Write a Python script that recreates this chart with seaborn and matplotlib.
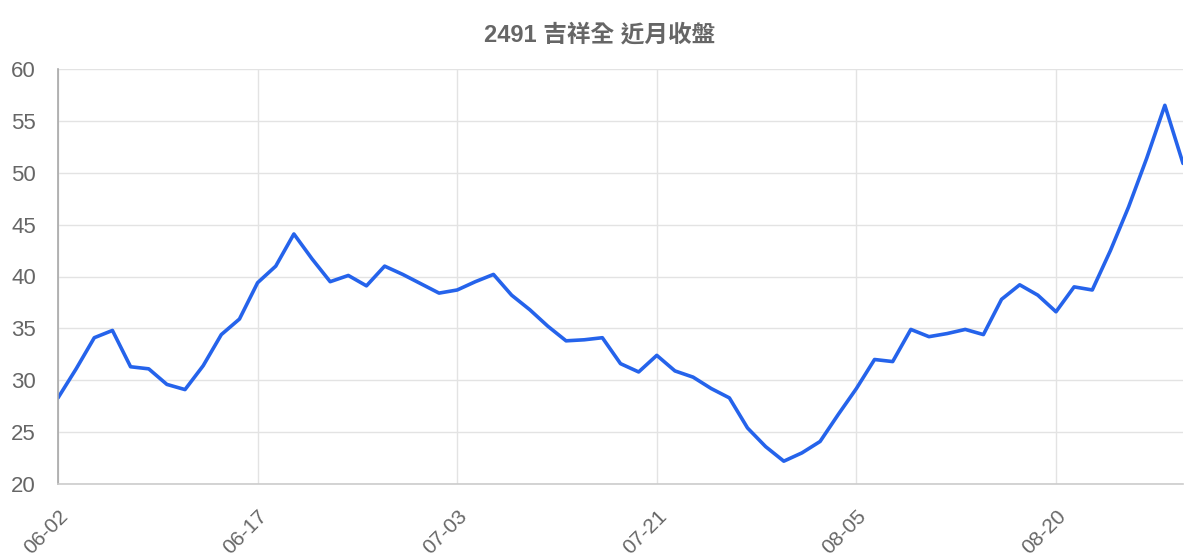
import pandas as pd
import matplotlib
matplotlib.use("Agg")
import matplotlib.pyplot as plt
import seaborn as sns

# Trading dates (MM-DD) and closing prices for 2491
dates = [
    "06-02", "06-03", "06-04", "06-05", "06-06", "06-09", "06-10", "06-11", "06-12", "06-13", "06-16",
    "06-17", "06-18", "06-19", "06-23", "06-24", "06-25", "06-26", "06-27", "06-30", "07-01", "07-02",
    "07-03", "07-04", "07-08", "07-09", "07-10", "07-11", "07-14", "07-15", "07-16", "07-17", "07-18",
    "07-21", "07-22", "07-23", "07-24", "07-25", "07-28", "07-29", "07-30", "07-31", "08-01", "08-04",
    "08-05", "08-06", "08-07", "08-08", "08-11", "08-12", "08-13", "08-14", "08-15", "08-18", "08-19",
    "08-20", "08-21", "08-22", "08-25", "08-26", "08-27", "08-28", "08-29",
]
close = [
    28.3, 31.1, 34.1, 34.8, 31.3, 31.1, 29.6, 29.1, 31.4, 34.4, 35.9,
    39.4, 41.0, 44.1, 41.7, 39.5, 40.1, 39.1, 41.0, 40.2, 39.3, 38.4,
    38.7, 39.5, 40.2, 38.2, 36.8, 35.2, 33.8, 33.9, 34.1, 31.6, 30.8,
    32.4, 30.9, 30.3, 29.2, 28.3, 25.4, 23.6, 22.2, 23.0, 24.1, 26.7,
    29.2, 32.0, 31.8, 34.9, 34.2, 34.5, 34.9, 34.4, 37.8, 39.2, 38.2,
    36.6, 39.0, 38.7, 42.5, 46.7, 51.4, 56.5, 50.9,
]
tick_every = 11
title = "2491 吉祥全 近月收盤"

df = pd.DataFrame({"Date": dates, "Close": close})
df["Pos"] = range(len(df))

sns.set_style("white")
plt.rcParams["font.family"] = ["Liberation Sans", "Noto Sans CJK TC", "DejaVu Sans"]

fig = plt.figure(figsize=(12, 5.6), dpi=100)
ax = fig.add_axes([58 / 1200, 76 / 560, 1125 / 1200, 415 / 560])

sns.lineplot(data=df, x="Pos", y="Close", color="#2563eb", linewidth=2.6, ax=ax)

ax.set_xlim(0, len(df) - 1)
ax.set_ylim(20, 60)
ax.set_yticks(range(20, 61, 5))
tick_pos = list(range(0, len(df), tick_every))
ax.set_xticks(tick_pos)
ax.set_xticklabels([dates[i] for i in tick_pos], rotation=45, ha="right",
                   rotation_mode="anchor")
ax.set_xlabel("")
ax.set_ylabel("")

ax.grid(True, color="#e3e3e3", linewidth=1)
ax.tick_params(axis="y", colors="#e3e3e3", labelcolor="#666666",
               labelsize=16, length=14, width=1, pad=2)
ax.tick_params(axis="x", colors="#e3e3e3", labelcolor="#666666",
               labelsize=15, length=13, width=1, pad=3)

for side in ["top", "right"]:
    ax.spines[side].set_visible(False)
ax.spines["left"].set_color("#a8a8a8")
ax.spines["bottom"].set_color("#cccccc")
ax.spines["left"].set_linewidth(1.2)
ax.spines["bottom"].set_linewidth(1.2)
ax.xaxis.get_major_ticks()[0].tick1line.set_color("#a8a8a8")

fig.text(0.5, 1 - 35 / 560, title, ha="center", va="center",
         fontsize=17, fontweight="bold", color="#666666")

fig.savefig("out.png", dpi=100)
